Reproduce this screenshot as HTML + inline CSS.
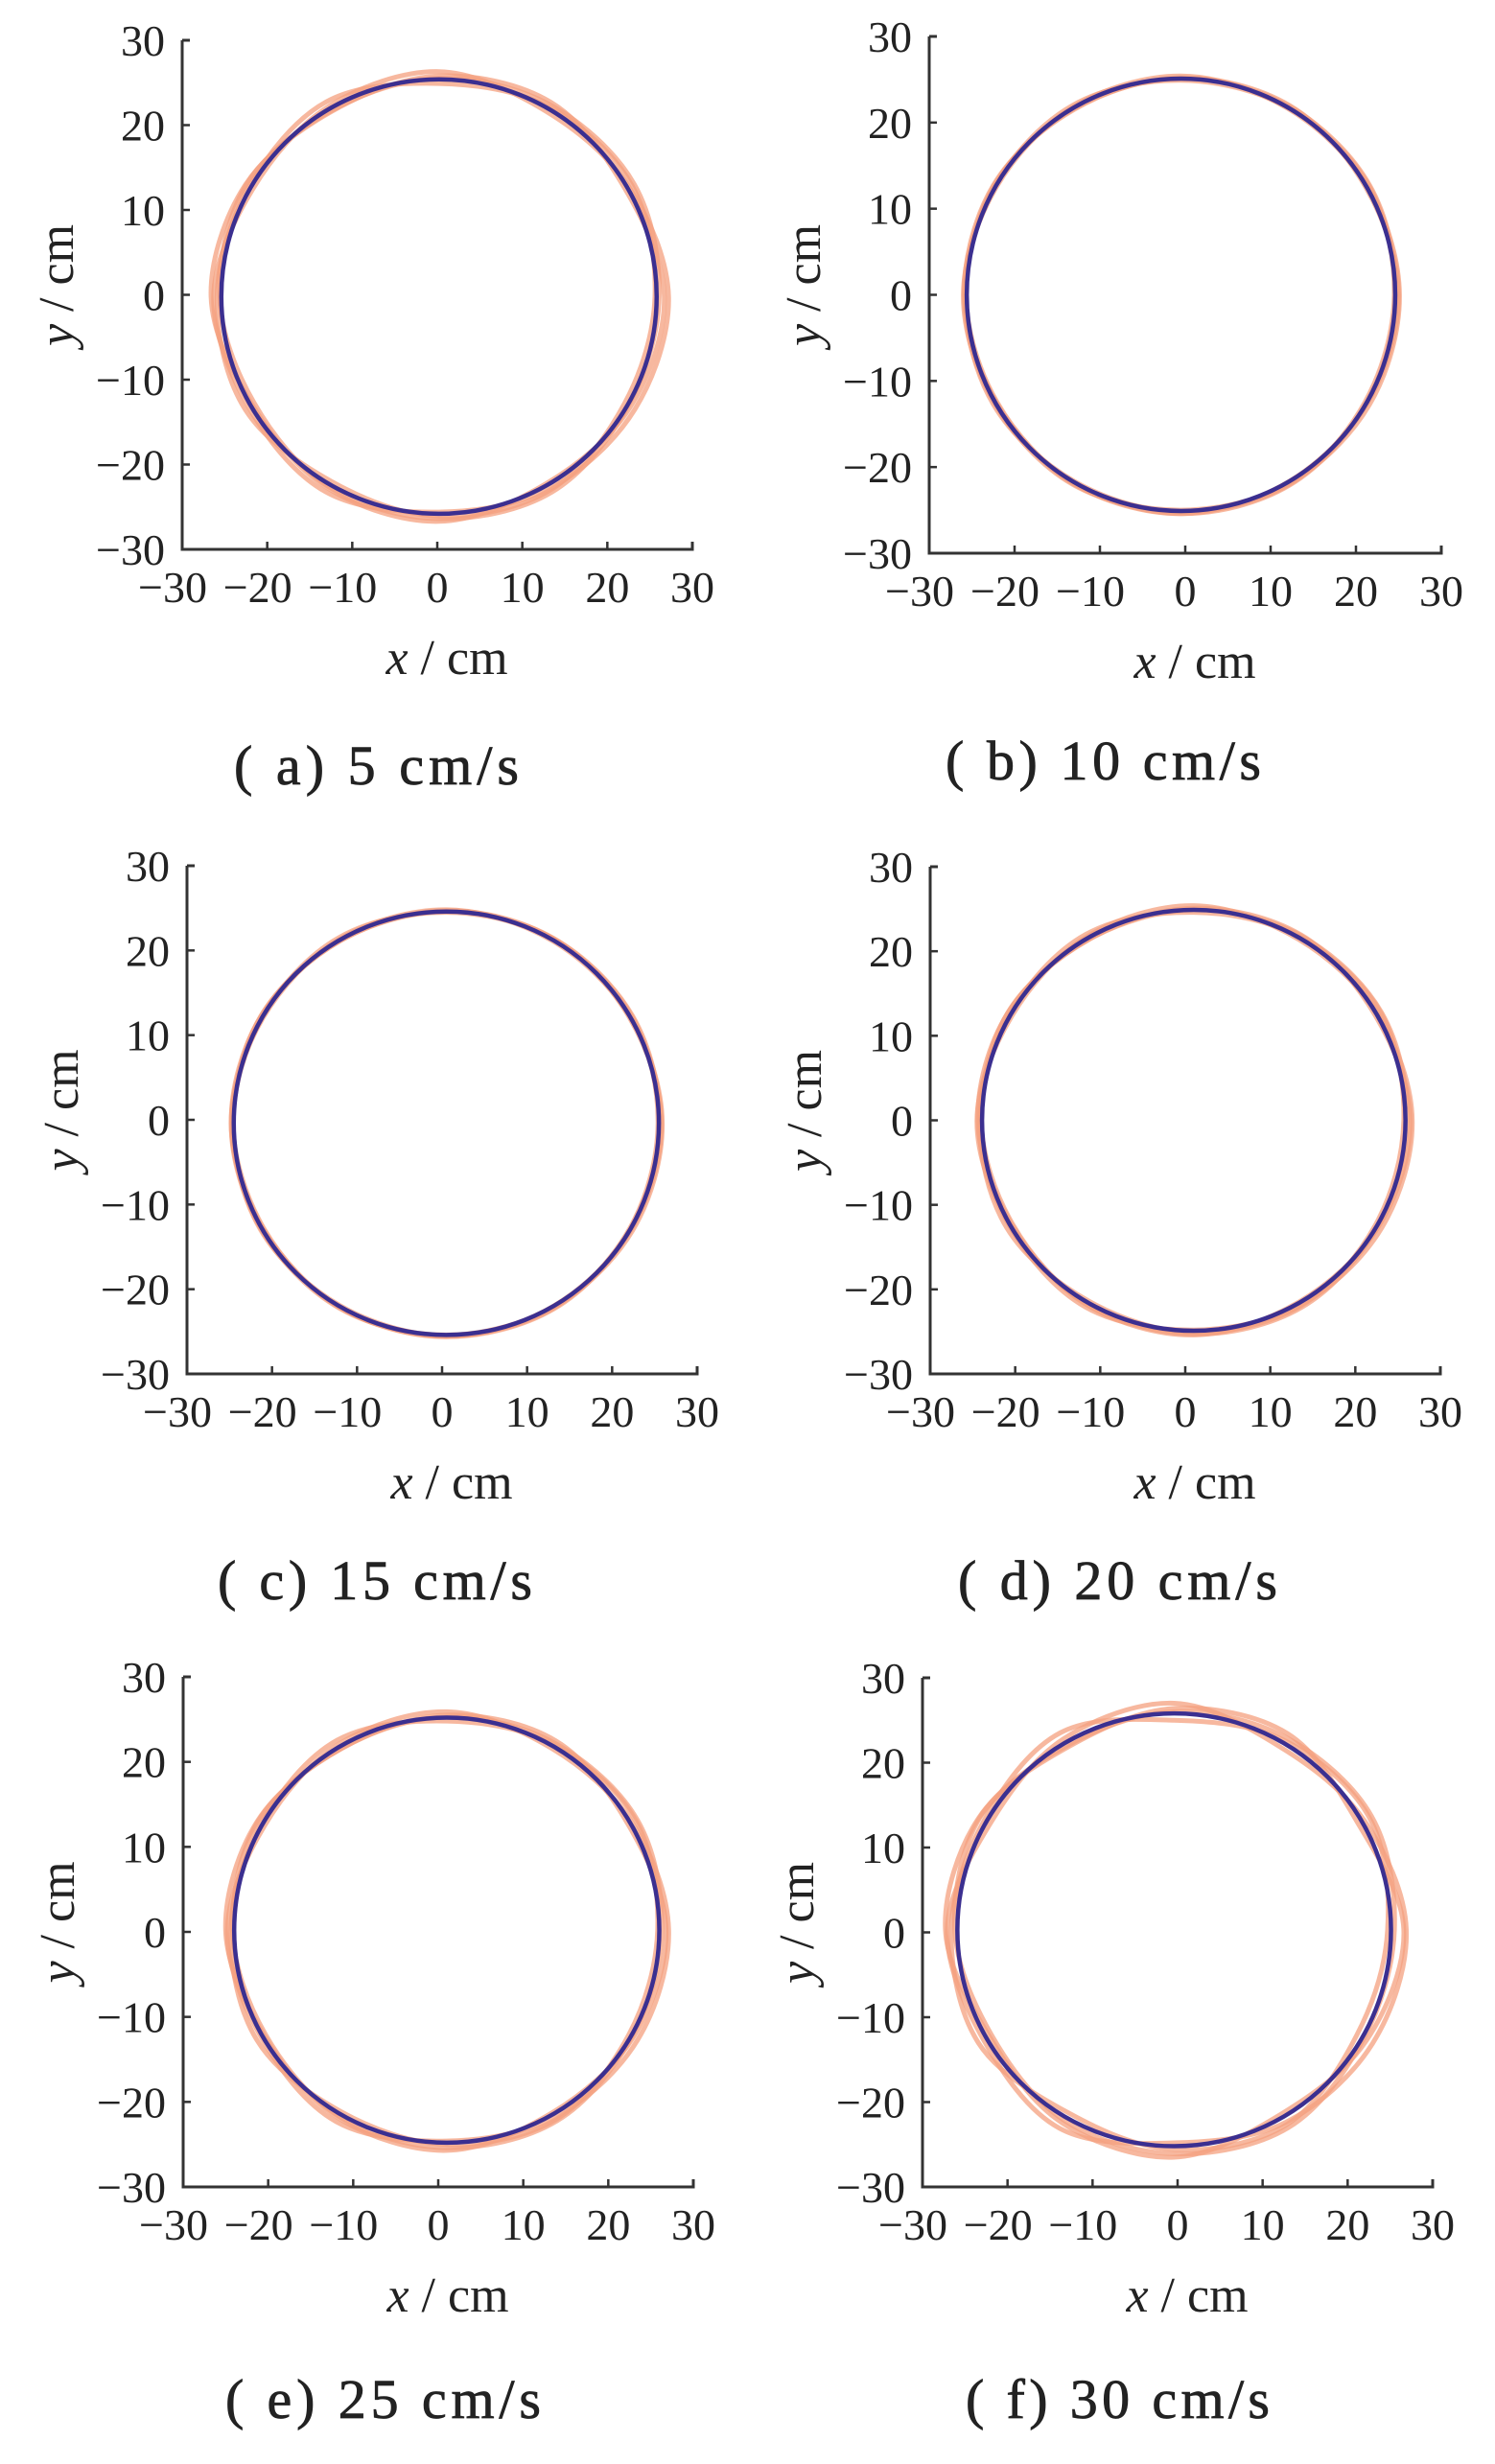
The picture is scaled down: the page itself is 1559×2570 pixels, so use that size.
<!DOCTYPE html>
<html><head><meta charset="utf-8"><style>
html,body{margin:0;padding:0;background:#fff}
svg text{font-family:"Liberation Serif","Noto Serif CJK SC",serif;fill:#222}
</style></head><body>
<svg id="fig" width="1559" height="2565" viewBox="0 0 1559 2565" xmlns="http://www.w3.org/2000/svg"></svg>
<script>
// ---- data ----
const tickValues = [-30,-20,-10,0,10,20,30];
const tickLabels = ["\u221230","\u221220","\u221210","0","10","20","30"];
const captions = ["( a)  5  cm/s","( b)  10  cm/s","( c)  15  cm/s","( d)  20  cm/s","( e)  25  cm/s","( f)  30  cm/s"];
// reference circle per panel: center x, center y, radius (cm)
const refCx = [0.2,-0.5,0.5,1.0,1.0,-0.4];
const refCy = [-0.2,0.0,-0.4,0.0,0.2,0.3];
const refR  = [25.6,25.1,25.0,24.9,25.0,25.5];
// measured traces: radius deviation (cm) at 12 equally spaced angles starting at +x, counter-clockwise
const devA1 = [0.9,-0.3,0.8,0.4,-0.4,0.7,1.2,-0.2,0.5,0.9,-0.2,0.4];
const devA2 = [-0.2,0.6,0.2,-0.5,0.9,0.2,0.5,0.8,-0.4,0.3,0.7,-0.4];
const devA3 = [1.4,0.2,-0.4,0.9,0.3,-0.3,0.9,0.3,1.0,-0.2,0.5,1.0];
const devA4 = [0.3,0.9,0.5,0.1,-0.3,0.6,0.2,-0.5,0.3,0.6,1.0,0.1];
const devB1 = [0.4,-0.1,0.3,0.1,-0.2,0.3,0.3,-0.1,0.2,0.3,0.0,0.1];
const devB2 = [-0.1,0.3,0.0,-0.2,0.3,0.1,0.2,0.3,-0.1,0.1,0.3,-0.2];
const devB3 = [0.5,0.1,-0.1,0.3,0.1,-0.1,0.4,0.1,0.3,-0.1,0.2,0.4];
const devB4 = [0.1,0.4,0.2,0.0,-0.1,0.2,0.1,-0.2,0.1,0.3,0.4,0.0];
const devC1 = [0.3,-0.1,0.2,0.1,-0.1,0.2,0.3,-0.1,0.1,0.2,0.0,0.1];
const devC2 = [-0.1,0.2,0.1,-0.1,0.3,0.0,0.1,0.2,-0.1,0.1,0.2,-0.1];
const devC3 = [0.4,0.0,-0.1,0.2,0.1,-0.1,0.3,0.1,0.2,0.0,0.1,0.3];
const devC4 = [0.1,0.3,0.2,0.0,-0.1,0.2,0.1,-0.2,0.1,0.2,0.3,0.0];
const devD1 = [0.6,-0.2,0.4,0.2,-0.2,0.4,0.5,-0.2,0.3,0.5,-0.1,0.2];
const devD2 = [-0.2,0.5,0.1,-0.3,0.5,0.1,0.3,0.5,-0.2,0.2,0.4,-0.2];
const devD3 = [0.8,0.1,-0.2,0.5,0.2,-0.2,0.6,0.1,0.6,-0.1,0.3,0.6];
const devD4 = [0.2,0.6,0.3,0.0,-0.2,0.4,0.1,-0.3,0.2,0.4,0.6,0.1];
const devE1 = [0.8,-0.3,0.7,0.3,-0.3,0.7,1.0,-0.2,0.5,0.9,-0.2,0.3];
const devE2 = [-0.2,0.7,0.2,-0.4,0.8,0.1,0.4,0.8,-0.3,0.2,0.7,-0.3];
const devE3 = [1.1,0.2,-0.3,0.7,0.3,-0.3,0.8,0.2,1.0,-0.2,0.4,0.9];
const devE4 = [0.3,0.9,0.4,0.1,-0.3,0.6,0.2,-0.4,0.3,0.6,0.9,0.1];
const devF1 = [1.5,-0.5,1.2,0.6,-0.6,1.0,1.4,-0.4,0.8,1.3,-0.4,0.6];
const devF2 = [-0.4,1.0,0.3,-0.8,1.3,0.3,0.7,1.1,-0.6,0.4,1.0,-0.7];
const devF3 = [1.8,0.3,-0.6,1.2,0.5,-0.5,1.2,0.4,1.5,-0.4,0.7,1.4];
const devF4 = [0.4,1.3,0.7,0.2,-0.4,0.9,0.3,-0.7,0.4,0.9,1.4,0.2];
const traces = [[devA1,devA2,devA3,devA4],[devB1,devB2,devB3,devB4],[devC1,devC2,devC3,devC4],[devD1,devD2,devD3,devD4],[devE1,devE2,devE3,devE4],[devF1,devF2,devF3,devF4]];

// ---- layout ----
const panels = [
 {l:190,t:42,r:722,b:573,cap:800,cx0:244,cw:297},
 {l:969,t:38,r:1503,b:577,cap:795,cx0:986,cw:329},
 {l:195,t:903,r:727,b:1433,cap:1650,cx0:227,cw:328},
 {l:970,t:904,r:1502,b:1433,cap:1650,cx0:999,cw:333},
 {l:191,t:1749,r:723,b:2281,cap:2504,cx0:235,cw:329},
 {l:962,t:1750,r:1494,b:2281,cap:2504,cx0:1007,cw:317}
];
const NS="http://www.w3.org/2000/svg";
const svg=document.getElementById('fig');
function mk(tag,attrs,parent){const e=document.createElementNS(NS,tag);for(const k in attrs)e.setAttribute(k,attrs[k]);(parent||svg).appendChild(e);return e;}

function closedPath(pts){
  const n=pts.length;let d=`M${pts[0][0].toFixed(1)},${pts[0][1].toFixed(1)}`;
  for(let i=0;i<n;i++){
    const p0=pts[(i-1+n)%n],p1=pts[i],p2=pts[(i+1)%n],p3=pts[(i+2)%n];
    const c1=[p1[0]+(p2[0]-p0[0])/6,p1[1]+(p2[1]-p0[1])/6];
    const c2=[p2[0]-(p3[0]-p1[0])/6,p2[1]-(p3[1]-p1[1])/6];
    d+=`C${c1[0].toFixed(1)},${c1[1].toFixed(1)} ${c2[0].toFixed(1)},${c2[1].toFixed(1)} ${p2[0].toFixed(1)},${p2[1].toFixed(1)}`;
  }
  return d+'Z';
}

panels.forEach((P,pi)=>{
  const g=mk('g',{});
  
  
  const sx=v=>P.l+(v+30)/60*(P.r-P.l);
  const sy=v=>P.b-(v+30)/60*(P.b-P.t);
  traces[pi].forEach((dev,ti)=>{
    const pts=dev.map((d,k)=>{const a=k/dev.length*2*Math.PI;const r=refR[pi]+d;return [sx(refCx[pi]+r*Math.cos(a)),sy(refCy[pi]+r*Math.sin(a))];});
    const p=mk('path',{d:closedPath(pts),fill:'none',stroke:'#f4a07f','stroke-width':5,'stroke-opacity':0.75},g);
    
    
  });
  const rx=sx(refCx[pi]+refR[pi])-sx(refCx[pi]);
  const ry=sy(refCy[pi])-sy(refCy[pi]+refR[pi]);
  const c=mk('ellipse',{cx:sx(refCx[pi]),cy:sy(refCy[pi]),rx:rx,ry:ry,fill:'none',stroke:'#3b2f90','stroke-width':4.5},g);
  
  
  const ax=mk('path',{d:`M${P.l},${P.t}H${P.l+8}M${P.l},${P.t}V${P.b}H${P.r}V${P.b-8}`,fill:'none',stroke:'#333','stroke-width':3},g);
  
  
  tickValues.forEach((v,i)=>{
    const X=sx(v),Y=sy(v);
    if(i>0&&i<6){mk('line',{x1:X,y1:P.b,x2:X,y2:P.b-8,stroke:'#333','stroke-width':2.5},g);
      mk('line',{x1:P.l,y1:Y,x2:P.l+8,y2:Y,stroke:'#333','stroke-width':2.5},g);}
    const xt=mk('text',{x:X-(v<0?10:0),y:P.b+55,'font-size':46,'text-anchor':'middle'},g);
    xt.textContent=tickLabels[i];
    
    
    const yt=mk('text',{x:P.l-18,y:Y+16,'font-size':46,'text-anchor':'end'},g);
    yt.textContent=tickLabels[i];
    
    
  });
  const cx=(P.l+P.r)/2, cy=(P.t+P.b)/2;
  const xl=mk('text',{x:cx+10,y:P.b+130,'font-size':52,'text-anchor':'middle'},g);
  xl.innerHTML='<tspan font-style="italic">x</tspan> / cm';
  
  
  const yl=mk('text',{x:0,y:0,'font-size':52,'text-anchor':'middle',transform:`translate(${P.l-114},${cy-10}) rotate(-90)`},g);
  yl.innerHTML='<tspan font-style="italic">y</tspan> / cm';
  
  
  const cp=mk('text',{x:P.cx0,y:P.cap+18,'font-size':58,'text-anchor':'start',textLength:P.cw,lengthAdjust:'spacing',stroke:'#222','stroke-width':0.8},g);
  cp.textContent=captions[pi];
  
  
});
</script>
</body></html>
